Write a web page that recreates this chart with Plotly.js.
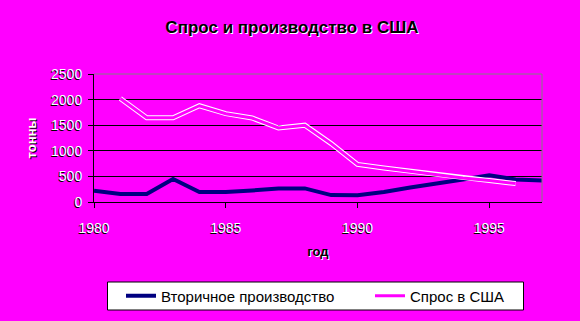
<!DOCTYPE html>
<html><head><meta charset="utf-8">
<script src="https://cdn.plot.ly/plotly-3.0.1.min.js"></script>
<style>html,body{margin:0;padding:0;background:#FF00FF}</style>
</head><body>
<div id="chart" style="width:580px;height:321px"></div>
<script>
var years = [1980,1981,1982,1983,1984,1985,1986,1987,1988,1989,1990,1991,1992,1993,1994,1995,1996,1997];
var production = [220,155,155,450,195,195,225,265,265,135,130,195,285,355,440,520,440,420];
var demandYears = [1981,1982,1983,1984,1985,1986,1987,1988,1989,1990,1991,1992,1993,1994,1995,1996];
var demand = [2020,1645,1645,1880,1725,1640,1445,1500,1140,735,665,600,535,470,420,360];
var xTicks = [1980,1985,1990,1995];
var yTicks = [0,500,1000,1500,2000,2500];

var MAG = '#FF00FF', NAVY = '#000080';
var FONT = 'Liberation Sans, Arial, sans-serif';

// plot area in pixels: l=94, r=542, t=74, b=202
function px(xPix){ return (xPix-94)/448; }
function py(yPix){ return (202-yPix)/128; }

var traces = [
  {x: years, y: production, type:'scatter', mode:'lines', name:'Вторичное производство',
   line:{color:NAVY, width:4}, legend:'legend'},
  {x: demandYears, y: demand, type:'scatter', mode:'lines', showlegend:false, hoverinfo:'skip',
   line:{color:'#FFFFFF', width:5}},
  {x: demandYears, y: demand, type:'scatter', mode:'lines', name:'Спрос в США',
   line:{color:MAG, width:3}, legend:'legend2'}
];

var legendCommon = {orientation:'h', bgcolor:'rgba(0,0,0,0)', borderwidth:0, xanchor:'left', yanchor:'middle',
  font:{family:FONT, size:15, color:'#000'}};

var layout = {
  width:580, height:321,
  paper_bgcolor:MAG, plot_bgcolor:MAG,
  margin:{l:94, r:38, t:74, b:119, autoexpand:false},
  title:{text:'<b>Спрос и производство в США</b>', x:292/580, xanchor:'center', y:1-27/321, yanchor:'middle', yref:'container',
    font:{family:FONT, size:17, color:'#000', shadow:'1px 1px 0 #fff'}},
  xaxis:{range:[1980,1997], tickvals:xTicks, ticktext:xTicks.map(String), showgrid:false, zeroline:false,
    showline:true, linecolor:'#000', linewidth:1, ticks:'outside', ticklen:5, tickcolor:'#000',
    ticklabelstandoff:8,
    tickfont:{family:FONT, size:14, color:'#fff', shadow:'-1px 1px 0 #000'},
    title:{text:'<b>год</b>', standoff:12, font:{family:FONT, size:13, color:'#000', shadow:'1px 1px 0 #fff'}}},
  yaxis:{range:[0,2500], tickvals:yTicks, showgrid:true, gridcolor:'#000', gridwidth:1, zeroline:false,
    showline:true, linecolor:'#000', linewidth:1, ticks:'outside', ticklen:5, tickcolor:'#000',
    ticklabelstandoff:3,
    tickfont:{family:FONT, size:14, color:'#fff', shadow:'-1px 1px 0 #000'},
    title:{text:'<b>тонны</b>', standoff:11, font:{family:FONT, size:13, color:'#fff', shadow:'-1px 1px 0 #000'}}},
  shapes:[
    {type:'line', xref:'paper', yref:'paper', x0:0, x1:1, y0:1, y1:1, line:{color:'#808080', width:1}},
    {type:'line', xref:'paper', yref:'paper', x0:1, x1:1, y0:0, y1:1, line:{color:'#808080', width:1}},
    {type:'rect', xref:'paper', yref:'paper', x0:px(107.5), x1:px(523.5), y0:py(282), y1:py(310),
     fillcolor:'#fff', line:{color:'#000', width:1}, layer:'above'}
  ],
  legend: Object.assign({}, legendCommon, {x:px(121), y:py(296)}),
  legend2: Object.assign({}, legendCommon, {x:px(370), y:py(296)}),
  showlegend:true
};
Plotly.newPlot('chart', traces, layout, {displayModeBar:false, staticPlot:true});
</script>
</body></html>
